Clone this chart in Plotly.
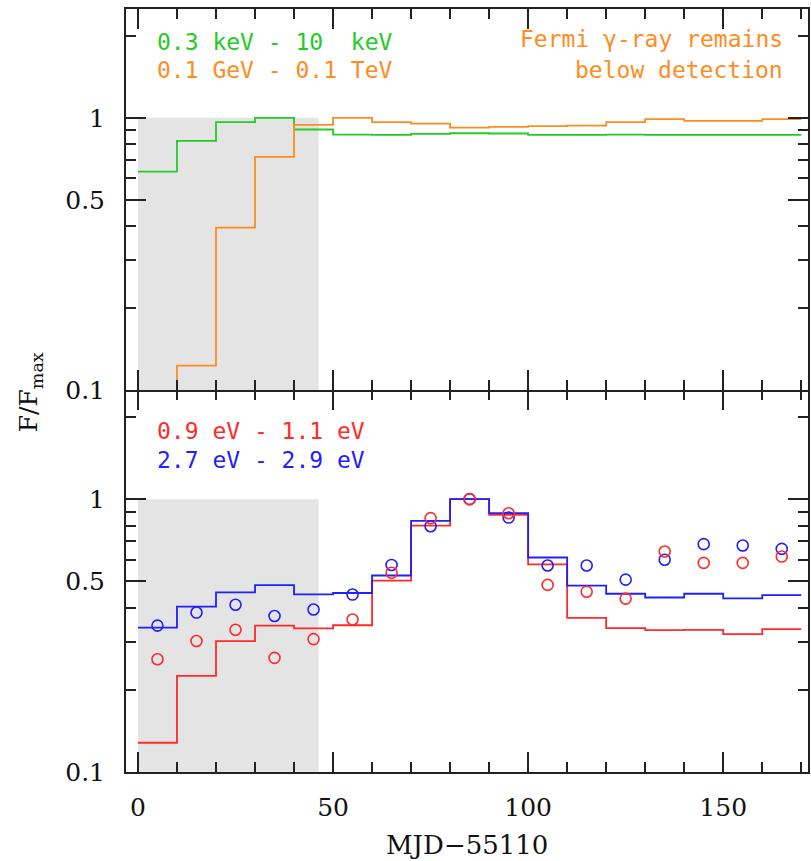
import plotly.graph_objects as go

# ---- data ----
bin_edges = [0, 10, 20, 30, 40, 50, 60, 70, 80, 90, 100, 110, 120, 130, 140, 150, 160, 170]
bin_centers = [5, 15, 25, 35, 45, 55, 65, 75, 85, 95, 105, 115, 125, 135, 145, 155, 165]

xray_flux = [0.635, 0.823, 0.964, 1.0, 0.906, 0.868, 0.866, 0.873, 0.878, 0.876,
             0.866, 0.866, 0.868, 0.866, 0.866, 0.866, 0.866]
gamma_flux = [0.06, 0.123, 0.395, 0.719, 0.943, 1.0, 0.964, 0.953, 0.921, 0.927,
              0.932, 0.937, 0.964, 0.989, 0.975, 0.975, 0.989]

red_model = [0.128, 0.225, 0.302, 0.344, 0.336, 0.345, 0.503, 0.80, 1.0, 0.876,
             0.577, 0.367, 0.337, 0.331, 0.332, 0.320, 0.334]
blue_model = [0.338, 0.404, 0.455, 0.484, 0.448, 0.453, 0.525, 0.833, 1.0, 0.888,
              0.611, 0.482, 0.450, 0.436, 0.450, 0.433, 0.445]

red_obs = [0.259, 0.302, 0.332, 0.262, 0.307, 0.362, 0.537, 0.852, 1.0, 0.888,
           0.485, 0.458, 0.432, 0.643, 0.584, 0.584, 0.616]
blue_obs = [0.344, 0.384, 0.410, 0.373, 0.394, 0.447, 0.574, 0.796, 1.0, 0.856,
            0.571, 0.571, 0.507, 0.600, 0.684, 0.676, 0.657]

shade_x = [0, 46.3]
shade_y = [0.1, 1.0]

y_tickvals = [0.1, 0.5, 1]
y_ticktext = ["0.1", "0.5", "1"]
y_minor = [0.2, 0.3, 0.4, 0.6, 0.7, 0.8, 0.9, 2]
x_tickvals = [0, 50, 100, 150]
x_ticktext = ["0", "50", "100", "150"]

GREEN = "#22cc22"
ORANGE = "#ff8c1e"
RED = "#ff2a2a"
BLUE = "#1f1fff"
GRAY = "#e4e4e4"

def step_y(vals):
    return list(vals) + [vals[-1]]

fig = go.Figure()

# shaded regions
for xa, ya in [("x2", "y2"), ("x", "y")]:
    fig.add_trace(go.Scatter(
        x=[shade_x[0], shade_x[1], shade_x[1], shade_x[0], shade_x[0]],
        y=[shade_y[0], shade_y[0], shade_y[1], shade_y[1], shade_y[0]],
        fill="toself", fillcolor=GRAY, line=dict(width=0), mode="lines",
        xaxis=xa, yaxis=ya, hoverinfo="skip", showlegend=False))

# top panel
fig.add_trace(go.Scatter(x=bin_edges, y=step_y(xray_flux), mode="lines",
                         line=dict(color=GREEN, width=1.8, shape="hv"),
                         xaxis="x2", yaxis="y2", showlegend=False))
fig.add_trace(go.Scatter(x=bin_edges, y=step_y(gamma_flux), mode="lines",
                         line=dict(color=ORANGE, width=1.8, shape="hv"),
                         xaxis="x2", yaxis="y2", showlegend=False))

# bottom panel
fig.add_trace(go.Scatter(x=bin_edges, y=step_y(red_model), mode="lines",
                         line=dict(color=RED, width=1.8, shape="hv"),
                         xaxis="x", yaxis="y", showlegend=False))
fig.add_trace(go.Scatter(x=bin_edges, y=step_y(blue_model), mode="lines",
                         line=dict(color=BLUE, width=1.8, shape="hv"),
                         xaxis="x", yaxis="y", showlegend=False))
fig.add_trace(go.Scatter(x=bin_centers, y=blue_obs, mode="markers",
                         marker=dict(symbol="circle-open", size=11, color=BLUE,
                                     line=dict(width=1.6, color=BLUE)),
                         xaxis="x", yaxis="y", showlegend=False))
fig.add_trace(go.Scatter(x=bin_centers, y=red_obs, mode="markers",
                         marker=dict(symbol="circle-open", size=11, color=RED,
                                     line=dict(width=1.6, color=RED)),
                         xaxis="x", yaxis="y", showlegend=False))

AXC = "#222222"
tickfont = dict(family="DejaVu Serif", size=25, color="#111111")

xcommon = dict(range=[-3.067, 171.73], linecolor=AXC, linewidth=2,
               ticks="inside", ticklen=20, tickwidth=1.6, tickcolor=AXC,
               tickvals=x_tickvals, ticktext=x_ticktext,
               minor=dict(dtick=10, tick0=0, ticks="inside", ticklen=10,
                          tickwidth=1.6, tickcolor=AXC, showgrid=False),
               showgrid=False, zeroline=False, tickfont=tickfont)
ycommon = dict(type="log", range=[-1, 0.4], showline=True, linecolor=AXC, linewidth=2,
               mirror="ticks", ticks="inside", ticklen=20, tickwidth=1.6, tickcolor=AXC,
               tickmode="array", tickvals=y_tickvals, ticktext=y_ticktext,
               minor=dict(tickmode="array", tickvals=y_minor, ticks="inside", ticklen=10,
                          tickwidth=1.6, tickcolor=AXC, showgrid=False),
               showgrid=False, zeroline=False, tickfont=tickfont, ticklabelstandoff=14)

split = 382 / 763
fig.update_layout(
    width=811, height=861,
    margin=dict(l=126, r=1, t=9, b=89),
    paper_bgcolor="white", plot_bgcolor="white",
    # bottom panel: bottom axis with labels (no mirror line, to avoid doubling the middle line)
    xaxis=dict(**xcommon, anchor="y", domain=[0, 1], showline=True, mirror=False,
               ticklabelstandoff=12),
    # bottom panel: ticks along its top edge (no line)
    xaxis3=dict(**xcommon, anchor="y", overlaying="x", side="top", matches="x",
                showline=False, showticklabels=False),
    # top panel: frame line at bottom and top with ticks
    xaxis2=dict(**xcommon, anchor="y2", domain=[0, 1], matches="x", showline=True,
                mirror="ticks", showticklabels=False),
    yaxis=dict(**ycommon, anchor="x", domain=[0, split]),
    yaxis2=dict(**ycommon, anchor="x2", domain=[split, 1]),
    showlegend=False,
)
# dummy trace to activate xaxis3
fig.add_trace(go.Scatter(x=[bin_centers[0]], y=[red_obs[0]], mode="markers",
                         marker=dict(size=0.1, opacity=0), xaxis="x3", yaxis="y",
                         showlegend=False, hoverinfo="skip"))

monofont = "DejaVu Sans Mono"
ann = []
ann.append(dict(text="0.3 keV - 10\u00a0\u00a0keV", x=4.3, y=0.279, xref="x2", yref="y2",
                xanchor="left", yanchor="middle", showarrow=False,
                font=dict(family=monofont, size=23, color=GREEN)))
ann.append(dict(text="0.1 GeV - 0.1 TeV", x=4.3, y=0.176, xref="x2", yref="y2",
                xanchor="left", yanchor="middle", showarrow=False,
                font=dict(family=monofont, size=23, color=ORANGE)))
ann.append(dict(text="Fermi \u03b3-ray remains", x=165.8, y=0.29, xref="x2", yref="y2",
                xanchor="right", yanchor="middle", showarrow=False,
                font=dict(family=monofont, size=23, color=ORANGE)))
ann.append(dict(text="below detection", x=165.8, y=0.176, xref="x2", yref="y2",
                xanchor="right", yanchor="middle", showarrow=False,
                font=dict(family=monofont, size=23, color=ORANGE)))
ann.append(dict(text="0.9 eV - 1.1 eV", x=4.3, y=0.2505, xref="x", yref="y",
                xanchor="left", yanchor="middle", showarrow=False,
                font=dict(family=monofont, size=23, color=RED)))
ann.append(dict(text="2.7 eV - 2.9 eV", x=4.3, y=0.142, xref="x", yref="y",
                xanchor="left", yanchor="middle", showarrow=False,
                font=dict(family=monofont, size=23, color=BLUE)))
ann.append(dict(text="MJD\u221255110", x=0.5, y=-(845 - 772) / 763, xref="paper", yref="paper",
                xanchor="center", yanchor="middle", showarrow=False,
                font=dict(family="DejaVu Serif", size=26, color="#111111")))
ann.append(dict(text="F/F<sub>max</sub>", x=(30 - 126) / 684, y=(772 - 392) / 763,
                xref="paper", yref="paper", textangle=-90,
                xanchor="center", yanchor="middle", showarrow=False,
                font=dict(family="DejaVu Serif", size=25, color="#111111")))
fig.update_layout(annotations=ann)

fig.write_html("out.html")
